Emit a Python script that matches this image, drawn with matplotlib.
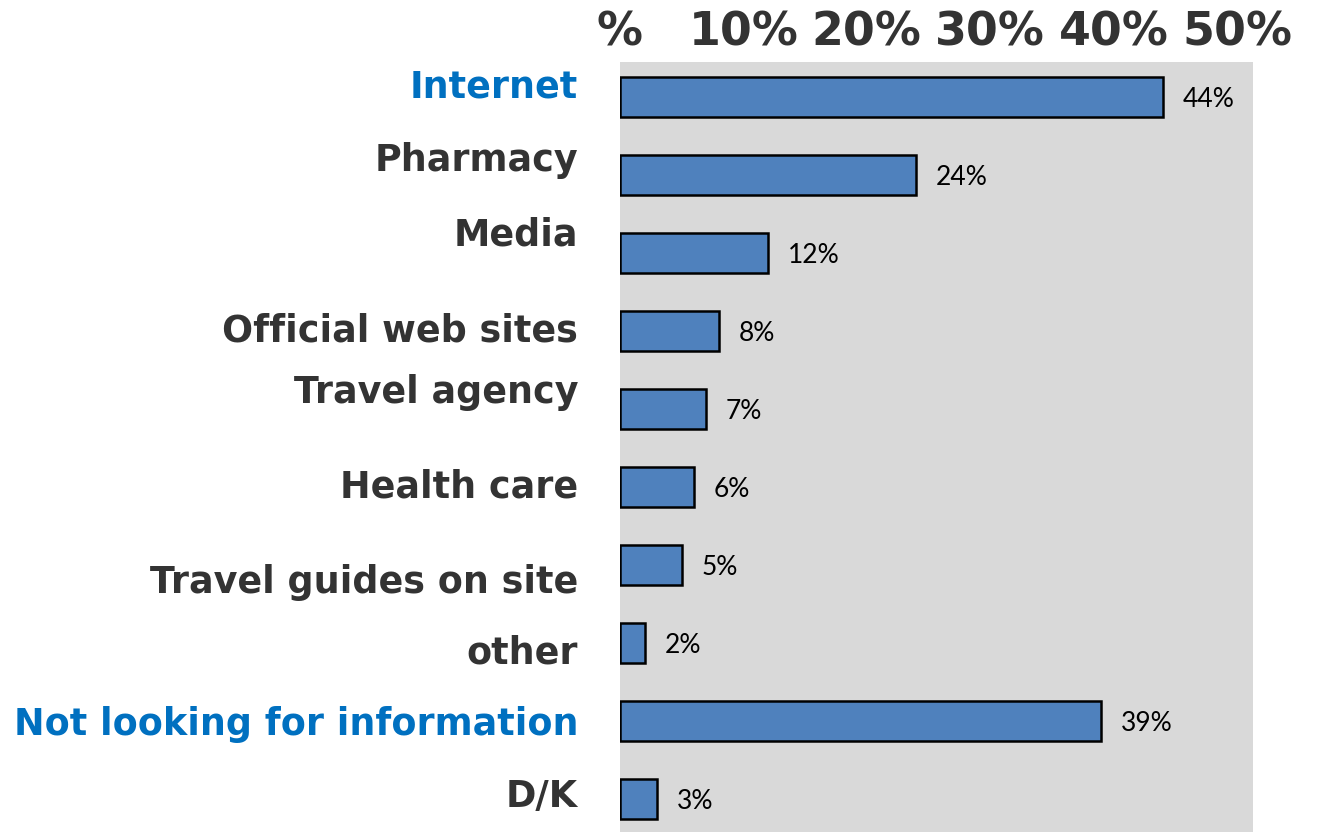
import numpy as np
import matplotlib
matplotlib.use("Agg")
import matplotlib.pyplot as plt
from matplotlib.transforms import blended_transform_factory

# data
categories = ["Internet", "Pharmacy", "Media", "Official web sites", "Travel agency",
              "Health care", "Travel guides on site", "other",
              "Not looking for information", "D/K"]
values = [44, 24, 12, 8, 7, 6, 5, 2, 39, 3]
highlight = ["Internet", "Not looking for information"]
tick_vals = [0, 10, 20, 30, 40, 50]
tick_labels = ["%", "10%", "20%", "30%", "40%", "50%"]

# labels in the source sit a little off their bars
label_nudge = [-0.13, -0.19, -0.23, 0.0, -0.21, 0.0, 0.22, 0.13, 0.04, -0.03]

W, H = 1329, 832
fig = plt.figure(figsize=(W / 100, H / 100), dpi=100)
ax = fig.add_axes([620 / W, 0, 633 / W, 1 - 62 / H])
ax.set_facecolor("#D9D9D9")

y = np.arange(len(categories))
ax.barh(y, values, height=0.51, color="#4F81BD", edgecolor="black", linewidth=1.8)
ax.set_xlim(0, 51.3)
ax.set_ylim(9.42, -0.45)

for yi, v in zip(y, values):
    ax.text(v + 1.6, yi + 0.03, f"{v}%", va="center", ha="left", fontsize=19,
            family="Lato", color="black")

trans = blended_transform_factory(ax.transAxes, ax.transData)
for yi, cat, nd in zip(y, categories, label_nudge):
    col = "#0070C0" if cat in highlight else "#333333"
    ax.text(-42 / 633, yi + nd, cat, transform=trans, ha="right", va="center",
            fontsize=26.3, fontweight="bold", family="DejaVu Sans", color=col)

ax.xaxis.tick_top()
ax.set_xticks(tick_vals)
ax.set_xticklabels(tick_labels, fontsize=33, fontweight="bold", color="#333333")
ax.tick_params(axis="x", length=0, pad=5)
ax.set_yticks([])
for s in ax.spines.values():
    s.set_visible(False)

fig.savefig("out.png", dpi=100)
